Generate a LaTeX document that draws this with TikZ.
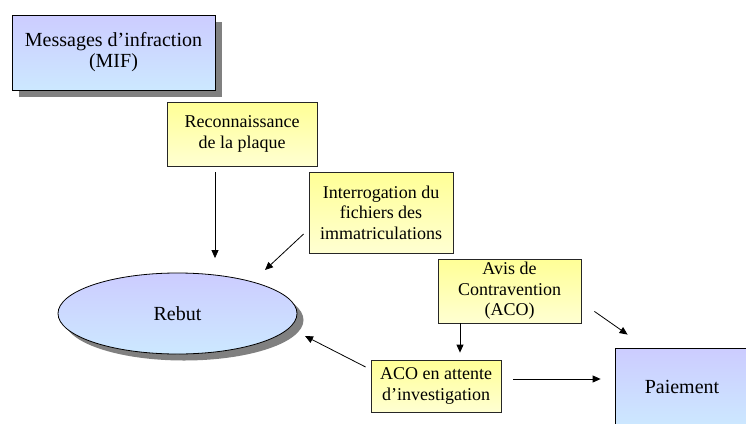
\documentclass[tikz,border=0pt]{standalone}
\usepackage{fontspec}
\setmainfont{Liberation Serif}
\usetikzlibrary{shadows,arrows.meta,calc,shapes.geometric}
\definecolor{blueTop}{RGB}{204,204,255}
\definecolor{blueBot}{RGB}{204,232,255}
\definecolor{yelTop}{RGB}{255,255,150}
\definecolor{yelBot}{RGB}{255,255,210}
\definecolor{shadowgray}{RGB}{128,128,128}
\begin{document}
\begin{tikzpicture}[x=1pt,y=-1pt,
  bluebox/.style={draw=black, line width=0.8pt, top color=blueTop, bottom color=blueBot,
    inner sep=0pt, align=center, font=\fontsize{20}{21}\selectfont},
  yelbox/.style={draw=black!85, line width=0.8pt, top color=yelTop, bottom color=yelBot,
    inner sep=0pt, align=center, font=\fontsize{18}{20.5}\selectfont},
  shad/.style={drop shadow={shadow xshift=6.5pt, shadow yshift=-6.5pt, fill=shadowgray, opacity=1}},
  arr/.style={-{Triangle[length=8pt,width=7pt]}, line width=0.8pt}]
\useasboundingbox (0,0) rectangle (746,423);
\clip (0,0) rectangle (746,423);
\fill[white] (0,0) rectangle (746,423);

\node[bluebox, shad, minimum width=203pt, minimum height=75pt] (mif) at (113.5,52.5)
  {Messages d’infraction\\(MIF)};
\node[yelbox, minimum width=150pt, minimum height=64pt] (reco) at (242,134)
  {Reconnaissance\\de la plaque};
\node[yelbox, minimum width=144pt, minimum height=81pt] (interro) at (381,212.5)
  {Interrogation du\\fichiers des\\immatriculations};
\node[bluebox, shad, ellipse, minimum width=239pt, minimum height=81pt] (rebut) at (177.5,313.5)
  {Rebut};
\node[yelbox, minimum width=143pt, minimum height=64pt] (avis) at (509.5,291)
  {Avis de\\Contravention\\(ACO)};
\node[yelbox, minimum width=130pt, minimum height=52pt] (aco) at (436,386)
  {ACO en attente\\d’investigation};
\node[bluebox, minimum width=134pt, minimum height=78pt] (paie) at (682,387)
  {Paiement};

\draw[arr] ($(reco.south)+(-27,6)$) -- ($(rebut.north)+(37.5,-14.5)$);
\draw[arr] ($(interro.west)+(-5,21.5)$) -- ($(rebut.center)+(87.5,-43.5)$);
\draw[arr] ($(aco.west)+(-5,-19)$) -- ($(rebut.center)+(127.5,22.5)$);
\draw[arr] ($(avis.south)+(-49.5,0)$) -- ($(aco.north)+(24,-7)$);
\draw[arr] ($(avis.south east)+(13,-12)$) -- ($(paie.north west)+(13,-13)$);
\draw[arr] ($(aco.east)+(12,-7)$) -- ($(paie.west)+(-14,-8)$);
\end{tikzpicture}
\end{document}
